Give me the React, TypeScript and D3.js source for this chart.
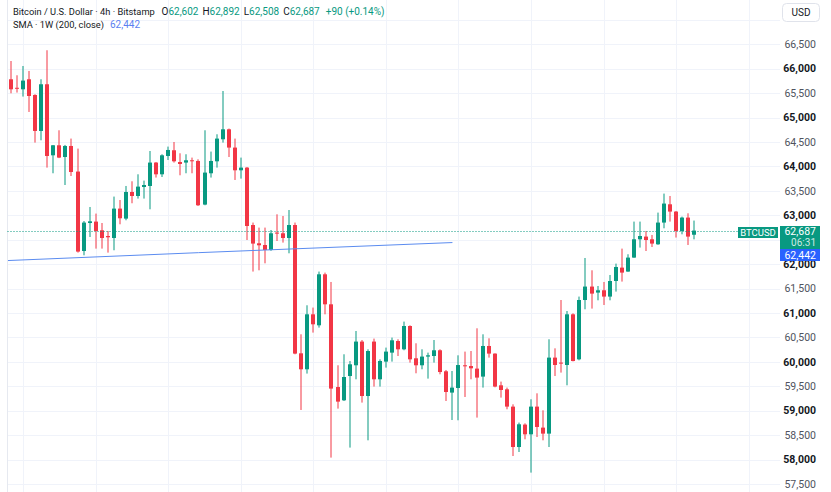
import React, { useEffect, useRef } from "react";
import * as d3 from "d3";

// 4h BTCUSD candles (Bitstamp)
const opens = [
  65784, 65610, 65579, 65784, 65463, 64726, 65682, 64228, 64433, 64193, 64419, 63895, 62269, 62842, 62871, 62693,
  62576, 62535, 63137, 62932, 63477, 63395, 63579, 63600, 64079, 63839, 64214, 64331, 64091, 64079, 64126, 64112,
  63219, 63860, 64105, 64556, 64760, 64386, 63921, 63976, 62801, 62427, 62392, 62290, 62646, 62632, 62535, 62801,
  60175, 59848, 60973, 60748, 61792, 61178, 59485, 59213, 59710, 59930, 60415, 59301, 60415, 59643, 60005, 60189,
  60427, 60257, 60734, 60073, 59930, 60108, 60120, 60237, 59807, 59371, 59465, 59930, 59915, 59862, 59698, 60325,
  60169, 59520, 59438, 59084, 58257, 58716, 58517, 59084, 58654, 58531, 60087, 59985, 59936, 60973, 60052, 61266,
  61541, 61418, 61465, 61336, 61655, 61929, 61848, 62134, 62509, 62564, 62509, 62406, 62851, 63225, 63076, 62679,
  62953, 62602,
];
const highs = [
  66158, 65866, 66056, 65954, 65477, 65784, 66378, 64439, 64740, 64440, 64570, 64365, 62883, 63170, 63035, 62842,
  62679, 63383, 63313, 63600, 63696, 63839, 63710, 64316, 64091, 64249, 64406, 64500, 64269, 64249, 64181, 64146,
  64740, 64304, 64658, 65544, 64775, 64570, 64181, 63989, 62851, 62748, 62748, 62699, 63020, 62986, 63108, 62851,
  60564, 61158, 61111, 61848, 61827, 61635, 59930, 60155, 60018, 60632, 60447, 60257, 60476, 60052, 60292, 60497,
  60462, 60824, 60748, 60380, 60257, 60189, 60447, 60257, 59834, 59813, 60134, 60210, 60222, 60687, 60564, 60482,
  60175, 59596, 59473, 59131, 58757, 58742, 59234, 59356, 59008, 60462, 60277, 61266, 61041, 60994, 61336, 62126,
  61874, 61553, 61635, 61778, 62011, 62318, 62202, 62871, 62871, 62679, 62597, 63055, 63444, 63395, 63088, 62973,
  63041, 62892,
];
const lows = [
  65497, 65512, 65430, 65115, 64488, 64535, 63976, 63860, 64170, 63620, 63804, 62236, 62181, 62556, 62318, 62318,
  62236, 62284, 62816, 62898, 63246, 63342, 63342, 63123, 63772, 63784, 64132, 64079, 63819, 63860, 63860, 63190,
  63205, 63772, 63976, 64488, 64193, 63723, 63751, 62494, 61848, 61874, 62017, 62273, 62474, 62441, 62222, 60155,
  59015, 59760, 60599, 60701, 60973, 58040, 59043, 59199, 58245, 59643, 59166, 58394, 59494, 59494, 59882, 60005,
  60120, 60237, 59985, 59766, 59848, 59657, 59985, 59745, 59199, 58810, 58804, 59281, 59643, 58859, 59473, 60087,
  59479, 59268, 59029, 58073, 58155, 58415, 57733, 58462, 58394, 58257, 59710, 59780, 59520, 60010, 60032, 61076,
  61090, 61260, 61164, 61260, 61438, 61643, 61843, 62130, 62339, 62269, 62351, 62396, 62734, 62871, 62544, 62611,
  62392, 62508,
];
const closes = [
  65579, 65590, 65757, 65442, 64726, 65682, 64214, 64433, 64181, 64419, 63886, 62257, 62851, 62877, 62679, 62535,
  62550, 63137, 62939, 63477, 63395, 63587, 63620, 64079, 63839, 64228, 64337, 64105, 64050, 64126, 64112, 63205,
  63874, 64112, 64570, 64760, 64386, 63921, 63976, 62781, 62421, 62386, 62290, 62632, 62625, 62535, 62801, 60169,
  59848, 60973, 60769, 61792, 61178, 59453, 59186, 59690, 59950, 60415, 59301, 60222, 59643, 60018, 60210, 60441,
  60257, 60734, 60052, 59930, 60108, 60134, 60237, 59792, 59383, 59473, 59935, 59909, 59868, 59678, 60325, 60169,
  59494, 59424, 59084, 58257, 58722, 58517, 59084, 58667, 58531, 60087, 59936, 59964, 60973, 60017, 61266, 61541,
  61397, 61465, 61336, 61655, 61942, 61827, 62134, 62509, 62576, 62494, 62421, 62851, 63240, 63076, 62679, 62953,
  62564, 62687,
];

// legend values shown for the last bar
const changeAbs = 90;
const changePct = 0.14;
const countdown = "06:31";

// SMA 1W (200, close): weekly points, positioned by candle index
const smaIndex = [-11, 31, 73];
const smaValues = [62020, 62235, 62442];
const smaLast = 62442;

// price labels hidden under the last-price tag are left out
const priceTicks = d3.range(57500, 67001, 500);
const labelTicks = priceTicks.filter((d) => d <= 66500 && d !== 62500);
const gridIndex = d3.range(2, 125, 12);

const GREEN = "#089981";
const RED = "#f23645";
const BLUE = "#2962ff";
const FONT = "Roboto, 'Noto Sans', sans-serif";
const fmt = d3.format(",");

export default function App() {
  const svgRef = useRef<SVGSVGElement>(null);

  useEffect(() => {
    const width = 831;
    const height = 492;
    const paneLeft = 7.5;
    const paneRight = 780;

    const svg = d3.select(svgRef.current).attr("width", width).attr("height", height);
    svg.selectAll("*").remove();

    const x = d3.scaleLinear().domain([0, opens.length - 1]).range([11, 694.3]);
    const y = d3.scaleLinear().domain([57500, 66500]).range([484, 44.3]);

    svg.append("rect").attr("width", width).attr("height", height).attr("fill", "#ffffff");

    // grid
    const grid = svg.append("g").attr("stroke", "#f0f3fa").attr("stroke-width", 1);
    grid
      .selectAll("line.h")
      .data(priceTicks)
      .enter()
      .append("line")
      .attr("x1", paneLeft)
      .attr("x2", paneRight)
      .attr("y1", (d) => Math.round(y(d)) + 0.5)
      .attr("y2", (d) => Math.round(y(d)) + 0.5);
    grid
      .selectAll("line.v")
      .data(gridIndex)
      .enter()
      .append("line")
      .attr("x1", (d) => Math.round(x(d)) + 0.5)
      .attr("x2", (d) => Math.round(x(d)) + 0.5)
      .attr("y1", 0)
      .attr("y2", height);
    grid.append("line").attr("x1", paneLeft).attr("x2", paneLeft).attr("y1", 0).attr("y2", height).attr("stroke", "#e6e9f0");

    svg
      .append("defs")
      .append("clipPath")
      .attr("id", "pane")
      .append("rect")
      .attr("x", paneLeft + 0.5)
      .attr("y", 0)
      .attr("width", paneRight - paneLeft)
      .attr("height", height);

    // candles
    const candles = svg.append("g").attr("clip-path", "url(#pane)");
    const idx = d3.range(opens.length);
    const color = (i: number) => (closes[i] >= opens[i] ? GREEN : RED);

    candles
      .selectAll("line.wick")
      .data(idx)
      .enter()
      .append("line")
      .attr("x1", (i) => Math.round(x(i)))
      .attr("x2", (i) => Math.round(x(i)))
      .attr("y1", (i) => y(highs[i]))
      .attr("y2", (i) => y(lows[i]))
      .attr("stroke", color)
      .attr("stroke-width", 1);

    candles
      .selectAll("rect.body")
      .data(idx)
      .enter()
      .append("rect")
      .attr("x", (i) => Math.round(x(i)) - 2)
      .attr("width", 4)
      .attr("y", (i) => y(Math.max(opens[i], closes[i])))
      .attr("height", (i) => Math.max(1, Math.abs(y(opens[i]) - y(closes[i]))))
      .attr("fill", color);

    // SMA line
    const sma = d3
      .line<number>()
      .x((_, k) => x(smaIndex[k]))
      .y((d) => y(d));
    candles
      .append("path")
      .attr("d", sma(smaValues))
      .attr("fill", "none")
      .attr("stroke", "#5b8cf0")
      .attr("stroke-width", 1);

    // last price dotted line
    const lastY = Math.round(y(closes[closes.length - 1])) + 0.5;
    svg
      .append("line")
      .attr("x1", paneLeft)
      .attr("x2", 738)
      .attr("y1", lastY)
      .attr("y2", lastY)
      .attr("stroke", GREEN)
      .attr("stroke-dasharray", "1,2");

    // price axis labels
    svg
      .append("g")
      .selectAll("text")
      .data(labelTicks)
      .enter()
      .append("text")
      .attr("x", 816)
      .attr("y", (d) => y(d))
      .attr("dy", "0.35em")
      .attr("text-anchor", "end")
      .attr("font-family", FONT)
      .attr("font-size", 10.5)
      .attr("font-weight", (d) => (d % 1000 === 0 ? 700 : 400))
      .attr("fill", (d) => (d % 1000 === 0 ? "#131722" : "#50535e"))
      .text((d) => fmt(d));

    // USD button
    svg
      .append("rect")
      .attr("x", 782.5)
      .attr("y", 3.5)
      .attr("width", 37)
      .attr("height", 18)
      .attr("rx", 4)
      .attr("fill", "#ffffff")
      .attr("stroke", "#e0e3eb");
    svg
      .append("text")
      .attr("x", 801)
      .attr("y", 12.5)
      .attr("dy", "0.35em")
      .attr("text-anchor", "middle")
      .attr("font-family", FONT)
      .attr("font-size", 10)
      .attr("fill", "#131722")
      .text("USD");

    // last price tags
    svg.append("rect").attr("x", 738).attr("y", 227).attr("width", 40).attr("height", 11).attr("fill", GREEN);
    svg
      .append("text")
      .attr("x", 758)
      .attr("y", 232.5)
      .attr("dy", "0.35em")
      .attr("text-anchor", "middle")
      .attr("font-family", FONT)
      .attr("font-size", 9.5)
      .attr("fill", "#ffffff")
      .text("BTCUSD");
    svg.append("rect").attr("x", 780).attr("y", 226).attr("width", 40).attr("height", 23).attr("fill", GREEN);
    svg
      .append("text")
      .attr("x", 816)
      .attr("y", 231.5)
      .attr("dy", "0.35em")
      .attr("text-anchor", "end")
      .attr("font-family", FONT)
      .attr("font-size", 10.5)
      .attr("fill", "#ffffff")
      .text(fmt(closes[closes.length - 1]));
    svg
      .append("text")
      .attr("x", 816)
      .attr("y", 242.5)
      .attr("dy", "0.35em")
      .attr("text-anchor", "end")
      .attr("font-family", FONT)
      .attr("font-size", 10)
      .attr("fill", "#ffffff")
      .attr("fill-opacity", 0.8)
      .text(countdown);
    svg.append("rect").attr("x", 780).attr("y", 249).attr("width", 40).attr("height", 12).attr("fill", BLUE);
    svg
      .append("text")
      .attr("x", 816)
      .attr("y", 255)
      .attr("dy", "0.35em")
      .attr("text-anchor", "end")
      .attr("font-family", FONT)
      .attr("font-size", 10.5)
      .attr("fill", "#ffffff")
      .text(fmt(smaLast));

    // legend
    const last = opens.length - 1;
    const legend = svg.append("g").attr("font-family", FONT).attr("font-size", 10).attr("fill", "#131722");
    const l1 = legend.append("text").attr("x", 13).attr("y", 15);
    l1.append("tspan").attr("font-size", 9.3).text("Bitcoin / U.S. Dollar · 4h · Bitstamp");
    const ohlc: [string, number][] = [
      ["O", opens[last]],
      ["H", highs[last]],
      ["L", lows[last]],
      ["C", closes[last]],
    ];
    ohlc.forEach(([k, v], j) => {
      const t = l1.append("tspan").text(k);
      if (j === 0) t.attr("x", 161.5);
      else t.attr("dx", 4);
      l1.append("tspan").attr("fill", GREEN).text(fmt(v));
    });
    l1.append("tspan")
      .attr("dx", 6)
      .attr("fill", GREEN)
      .text(`+${changeAbs} (+${changePct.toFixed(2)}%)`);

    const l2 = legend.append("text").attr("x", 13).attr("y", 28);
    l2.append("tspan").attr("font-size", 9.3).text("SMA · 1W (200, close)");
    l2.append("tspan").attr("x", 110).attr("fill", "#5b7ff0").text(fmt(smaLast));
  }, []);

  return (
    <div>
      <style>{"body{margin:0}"}</style>
      <svg ref={svgRef}></svg>
    </div>
  );
}
